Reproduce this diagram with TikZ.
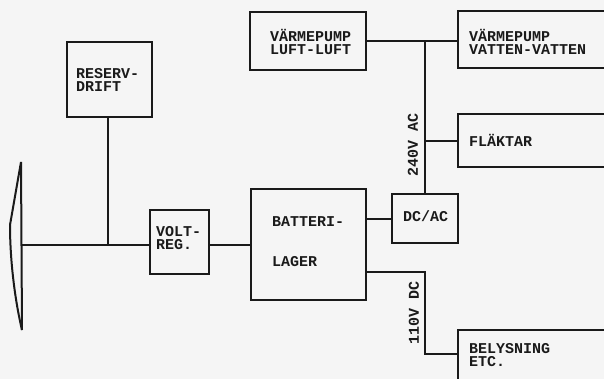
\documentclass[tikz,border=0pt]{standalone}
\usepackage{fontspec}
\setmainfont{Liberation Mono}
\definecolor{ink}{HTML}{1A1A1A}
\definecolor{paper}{HTML}{F5F5F5}
\tikzset{x=1pt,y=-1pt,
 bx/.style={draw=ink,line width=2pt,fill=none,anchor=north west,inner sep=0pt,outer sep=0pt},
 ln/.style={draw=ink,line width=2pt},
 lb/.style={text=ink,font=\bfseries\fontsize{15}{13}\selectfont,align=left,anchor=west,inner sep=0pt},
 vl/.style={lb,rotate=90,anchor=center}}
\begin{document}
\begin{tikzpicture}
\useasboundingbox (0,0) rectangle (604,379);
\fill[paper] (0,0) rectangle (604,379);
\node[bx,minimum width=85pt,minimum height=75pt] (res) at (67,42) {};
\node[bx,minimum width=59pt,minimum height=64pt] (volt) at (150,210) {};
\node[bx,minimum width=115pt,minimum height=111pt] (bat) at (251,189) {};
\node[bx,minimum width=66pt,minimum height=49pt] (dc) at (392,194) {};
\node[bx,minimum width=116pt,minimum height=58pt] (vl1) at (250,12) {};
\node[bx,minimum width=150pt,minimum height=57pt] (vv) at (458,11) {};
\node[bx,minimum width=150pt,minimum height=53pt] (fl) at (458,114) {};
\node[bx,minimum width=150pt,minimum height=60pt] (be) at (458,330) {};
\node[lb] (t1) at (76,79.5) {RESERV-\\DRIFT};
\node[lb] (t2) at (156,238) {VOLT-\\REG.};
\node[lb] (t3) at (272,222) {BATTERI-};
\node[lb] (t4) at (272,262) {LAGER};
\node[lb] (t5) at (403,216) {DC/AC};
\node[lb] (t6) at (270,41.5) {VÄRMEPUMP\\LUFT-LUFT};
\node[lb] (t7) at (469,41.5) {VÄRMEPUMP\\VATTEN-VATTEN};
\node[lb] (t8) at (469,140) {FLÄKTAR};
\node[lb] (t9) at (469,355) {BELYSNING\\ETC.};
\node[vl] (t10) at (413,145) {240V AC};
\node[vl] (t11) at (414,313) {110V DC};
\coordinate (hub) at (22,245);
\coordinate (rtop) at (21,162);
\coordinate (rbot) at (22,330);
\coordinate (j1) at (108,245);
\coordinate (j2) at (425,41.5);
\coordinate (j3) at (425,141.5);
\coordinate (k1) at (425,272);
\coordinate (k2) at (425,354);
\draw[ln] (rtop) -- (rbot);
\draw[ink,line width=2pt,line join=round] (rtop) -- (10,225) .. controls (10,265) and (16,305) .. (rbot);
\draw[ln] (hub) -- (volt.west |- hub);
\draw[ln] (res.south -| j1) -- (j1);
\draw[ln] (volt.east |- hub) -- (bat.west |- hub);
\draw[ln] (bat.east |- dc.west) -- (dc.west);
\draw[ln] (vl1.east |- j2) -- (vv.west |- j2);
\draw[ln] (j2) -- (dc.north -| j2);
\draw[ln] (j3) -- (fl.west |- j3);
\draw[ln] (bat.east |- k1) -- (k1) -- (k2) -- (be.west |- k2);
\end{tikzpicture}
\end{document}
